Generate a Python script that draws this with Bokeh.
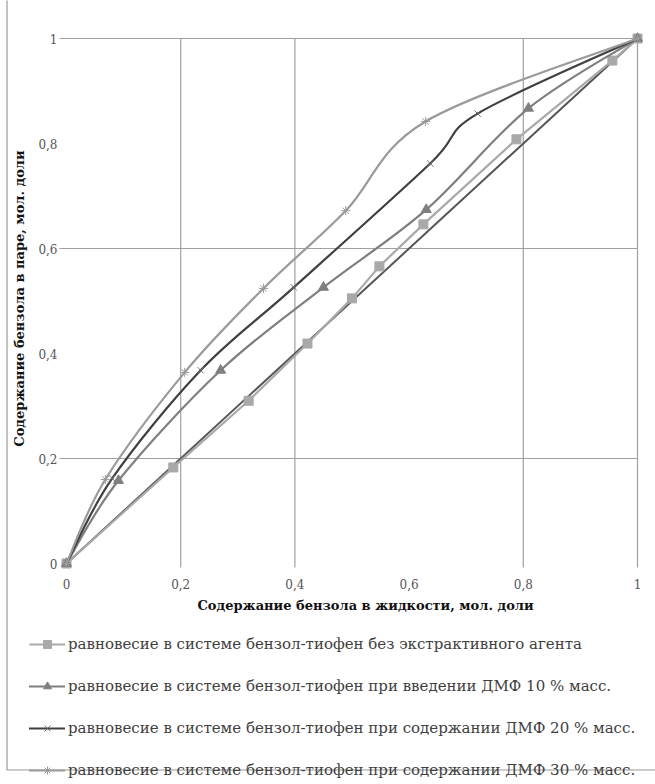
import math
from bokeh.plotting import figure
from bokeh.models import (Range1d, FixedTicker, Legend, LegendItem, BoxAnnotation,
                          ColumnDataSource)
from bokeh.core.properties import value
from bokeh.embed import file_html
from bokeh.resources import INLINE

# ---------------- data ----------------
x_ticks = [0.0, 0.2, 0.4, 0.6, 0.8, 1.0]
x_tick_labels = ["0", "0,2", "0,4", "0,6", "0,8", "1"]
y_ticks = [0.0, 0.2, 0.4, 0.6, 0.8, 1.0]
y_tick_labels = ["0", "0,2", "0,4", "0,6", "0,8", "1"]
grid_x = [0.2, 0.4, 0.8, 1.0]
grid_y = [0.2, 0.6, 1.0]

s1_x = [0.0, 0.187, 0.319, 0.422, 0.50, 0.548, 0.625, 0.788, 0.956, 1.0]
s1_y = [0.0, 0.183, 0.310, 0.419, 0.505, 0.566, 0.646, 0.808, 0.958, 1.0]
s2_x = [0.0, 0.091, 0.27, 0.45, 0.63, 0.809, 1.0]
s2_y = [0.0, 0.158, 0.368, 0.526, 0.674, 0.867, 1.0]
s3_x = [0.0, 0.08, 0.235, 0.398, 0.637, 0.72, 1.0]
s3_y = [0.0, 0.162, 0.368, 0.526, 0.762, 0.857, 1.0]
s4_x = [0.0, 0.068, 0.207, 0.345, 0.489, 0.629, 1.0]
s4_y = [0.0, 0.160, 0.364, 0.524, 0.672, 0.842, 1.0]
diag_x = [0.0, 1.0]
diag_y = [0.0, 1.0]

labels = [
    "равновесие в системе бензол-тиофен без экстрактивного агента",
    "равновесие в системе бензол-тиофен при введении ДМФ 10 % масс.",
    "равновесие в системе бензол-тиофен при содержании ДМФ 20 % масс.",
    "равновесие в системе бензол-тиофен при содержании ДМФ 30 % масс.",
]

x_title = "Содержание бензола в жидкости, мол. доли"
y_title = "Содержание бензола в паре, мол. доли"

SERIF = "DejaVu Serif"


def smooth_segments(xs, ys):
    """Bezier control points of a Catmull-Rom style smoothed line."""
    P = list(zip(xs, ys))
    n = len(P)
    d = dict(x0=[], y0=[], x1=[], y1=[], cx0=[], cy0=[], cx1=[], cy1=[])
    for i in range(n - 1):
        p0 = P[i - 1] if i > 0 else P[i]
        p1 = P[i]
        p2 = P[i + 1]
        p3 = P[i + 2] if i + 2 < n else P[i + 1]
        d["x0"].append(p1[0]); d["y0"].append(p1[1])
        d["x1"].append(p2[0]); d["y1"].append(p2[1])
        d["cx0"].append(p1[0] + (p2[0] - p0[0]) / 6)
        d["cy0"].append(p1[1] + (p2[1] - p0[1]) / 6)
        d["cx1"].append(p2[0] - (p3[0] - p1[0]) / 6)
        d["cy1"].append(p2[1] - (p3[1] - p1[1]) / 6)
    return ColumnDataSource(d)


W, H = 655, 784
# pixel geometry of the plot area (x=0 -> 66px, 1 -> 637px; y=0 -> 563px, 1 -> 38px)
PX0, PXS = 66.0, 571.0
PY0, PYS = 563.0, 525.0
x_start, x_end = (0 - PX0) / PXS, (W - PX0) / PXS
y_start, y_end = (PY0 - H) / PYS, PY0 / PYS
grid_x0 = -0.0123
grid_y0 = -0.0076

p = figure(width=W, height=H, output_backend="svg", toolbar_location=None,
           x_range=Range1d(x_start, x_end), y_range=Range1d(y_start, y_end),
           min_border=0, min_border_left=0, min_border_right=0,
           min_border_top=0, min_border_bottom=0)
p.outline_line_color = None
p.background_fill_color = "white"
p.border_fill_color = "white"
p.xgrid.visible = False
p.ygrid.visible = False

# outer chart border (left & top edges are visible in the picture)
p.add_layout(BoxAnnotation(left=6.5, right=2000, top=14.5, bottom=3000,
                           left_units="screen", right_units="screen",
                           top_units="screen", bottom_units="screen",
                           fill_alpha=0, line_color="#9a9a9a", line_alpha=1.0,
                           line_width=1.2))

# gridlines (only those visible in the picture)
p.segment(x0=grid_x, y0=[grid_y0] * len(grid_x), x1=grid_x, y1=[1.0] * len(grid_x),
          line_color="#a0a0a0", line_width=1.2)
p.segment(x0=[grid_x0] * len(grid_y), y0=grid_y, x1=[1.0] * len(grid_y), y1=grid_y,
          line_color="#a0a0a0", line_width=1.2)

# diagonal
p.line(diag_x, diag_y, line_color="#555555", line_width=2)

# series 1 (straight)
l1 = p.line(s1_x, s1_y, line_color="#a9a9a9", line_width=2.2)
m1 = p.scatter(s1_x, s1_y, marker="square", size=9, fill_color="#a9a9a9",
               line_color="#a9a9a9")
# series 2
l2 = p.bezier(x0="x0", y0="y0", x1="x1", y1="y1", cx0="cx0", cy0="cy0",
              cx1="cx1", cy1="cy1", source=smooth_segments(s2_x, s2_y),
              line_color="#7f7f7f", line_width=2.2, line_cap="round")
m2 = p.scatter(s2_x, s2_y, marker="triangle", size=10, fill_color="#7f7f7f",
               line_color="#7f7f7f")
# series 3
l3 = p.bezier(x0="x0", y0="y0", x1="x1", y1="y1", cx0="cx0", cy0="cy0",
              cx1="cx1", cy1="cy1", source=smooth_segments(s3_x, s3_y),
              line_color="#404040", line_width=2.2, line_cap="round")
m3 = p.scatter(s3_x, s3_y, marker="x", size=9, line_color="#707070", line_width=1)
# series 4
l4 = p.bezier(x0="x0", y0="y0", x1="x1", y1="y1", cx0="cx0", cy0="cy0",
              cx1="cx1", cy1="cy1", source=smooth_segments(s4_x, s4_y),
              line_color="#9a9a9a", line_width=2.2, line_cap="round")
m4 = p.scatter(s4_x, s4_y, marker="asterisk", size=9, line_color="#9a9a9a",
               line_width=1)

# axes drawn at fixed positions inside the full-canvas frame
for ax, ticks, tl in ((p.xaxis, x_ticks, x_tick_labels), (p.yaxis, y_ticks, y_tick_labels)):
    ax.ticker = FixedTicker(ticks=ticks)
    ax.major_label_overrides = {t: s for t, s in zip(ticks, tl)}
    ax.axis_line_color = None
    ax.major_tick_line_color = None
    ax.minor_tick_line_color = None
    ax.major_tick_out = 0
    ax.major_tick_in = 0
    ax.minor_tick_out = 0
    ax.minor_tick_in = 0
    ax.major_label_text_font = SERIF
    ax.major_label_text_font_size = "12px"
    ax.major_label_text_color = "#555555"
p.xaxis.fixed_location = grid_y0
p.xaxis.major_label_standoff = 12
p.yaxis.fixed_location = 0.0
p.yaxis.major_label_standoff = 9

# axis titles
p.text(x=[(197 - PX0) / PXS], y=[(PY0 - 605) / PYS], text=[x_title],
       text_font=value(SERIF), text_font_style="bold", text_font_size="13px",
       text_color="#111111", text_align="left", text_baseline="middle")
p.text(x=[(19 - PX0) / PXS], y=[(PY0 - 298) / PYS], text=[y_title], angle=math.pi / 2,
       text_font=value(SERIF), text_font_style="bold", text_font_size="13px",
       text_color="#111111", text_align="center", text_baseline="middle")

legend = Legend(items=[LegendItem(label=labels[0], renderers=[l1, m1]),
                       LegendItem(label=labels[1], renderers=[l2, m2]),
                       LegendItem(label=labels[2], renderers=[l3, m3]),
                       LegendItem(label=labels[3], renderers=[l4, m4])],
                location=(29, 4), orientation="vertical")
legend.label_text_font = SERIF
legend.label_text_font_size = "15px"
legend.label_text_color = "#404040"
legend.glyph_width = 36
legend.glyph_height = 20
legend.label_height = 20
legend.spacing = 22
legend.padding = 0
legend.margin = 0
legend.label_standoff = 3
legend.border_line_color = None
legend.background_fill_alpha = 0
p.add_layout(legend)

open("out.html", "w").write(file_html(p, INLINE))
